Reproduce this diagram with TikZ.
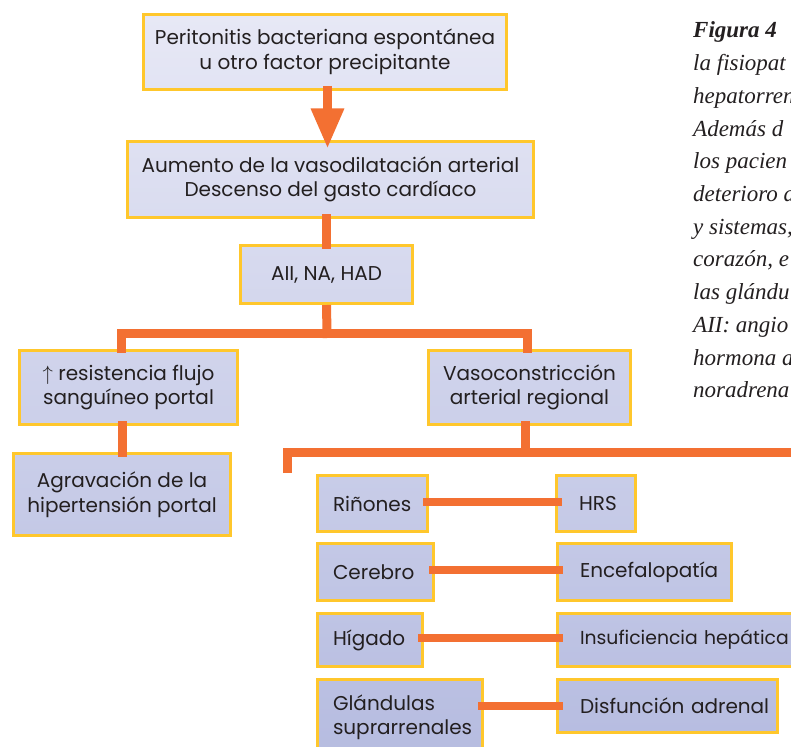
\documentclass[tikz,border=0pt]{standalone}
\usepackage{fontspec}
\setmainfont{Poppins}
\newfontfamily\capfont{Liberation Serif}
\usetikzlibrary{arrows.meta}
\definecolor{boxT}{HTML}{E8E9F6}
\definecolor{boxB}{HTML}{B6BCE0}
\definecolor{bordY}{HTML}{FFC72C}
\definecolor{conO}{HTML}{F37032}
\definecolor{txt}{HTML}{231F20}
\begin{document}
\begin{tikzpicture}[x=1pt,y=-1pt,
  box/.style 2 args={draw=bordY, line width=3pt, top color=boxB!#1!boxT,
    bottom color=boxB!#2!boxT, inner sep=0pt, text=txt,
    font=\fontsize{20}{24.5}\selectfont},
  cbox/.style={align=center},
  lbox/.style={align=left, inner xsep=15.5pt, text width=#1},
  rbox/.style={align=left, inner xsep=22.5pt, text width=#1},
  conn/.style={draw=conO, line width=9pt, shorten <=-5pt, shorten >=-5pt},
  rconn/.style={draw=conO, line width=8pt, shorten <=-6pt, shorten >=-7pt},
  capline/.style={anchor=base west, inner sep=0pt, text=txt,
    font=\capfont\itshape\fontsize{23}{26}\selectfont}]
\useasboundingbox (0,0) rectangle (791,746);
\clip (0,0) rectangle (791,746);

% main column
\node[box={2}{12}, cbox, minimum width=363pt, minimum height=75pt] (P) at (325,52)
  {Peritonitis bacteriana espontánea\\u otro factor precipitante};
\node[box={19}{29}, cbox, minimum width=406pt, minimum height=76pt] (A) at (330.5,179.5)
  {Aumento de la vasodilatación arterial\\Descenso del gasto cardíaco};
\node[box={33}{41}, cbox, minimum width=172pt, minimum height=58pt] (AII) at (326.5,274.5)
  {AII, NA, HAD};
\node[box={47}{57}, cbox, minimum width=218pt, minimum height=74pt] (R) at (128.5,387.5)
  {$\uparrow$ resistencia flujo\\sanguíneo portal};
\node[box={47}{57}, cbox, minimum width=202pt, minimum height=74pt] (V) at (529.5,387.5)
  {Vasoconstricción\\arterial regional};
\node[box={61}{72}, cbox, minimum width=217pt, minimum height=82pt] (G) at (122,494.5)
  {Agravación de la\\hipertensión portal};

% organ rows
\node[box={64}{71}, lbox=79pt, minimum width=110pt, minimum height=56pt] (Rin) at (372.5,503.5) {\mbox{Riñones}};
\node[box={64}{71}, rbox=34pt, minimum width=79pt, minimum height=56pt] (HRS) at (596,503.5) {\mbox{HRS}};
\node[box={73}{81}, lbox=85pt, minimum width=116pt, minimum height=57pt] (Cer) at (375.5,572) {\mbox{Cerebro}};
\node[box={73}{81}, rbox=129pt, minimum width=174pt, minimum height=57pt] (Enc) at (644.5,572) {\mbox{Encefalopatía}};
\node[box={82}{90}, lbox=74pt, minimum width=105pt, minimum height=53pt] (Hig) at (370,640) {\mbox{Hígado}};
\node[box={82}{90}, rbox=202pt, minimum width=247pt, minimum height=53pt,
  font=\fontsize{18.8}{24.5}\selectfont] (Ins) at (681,640) {\mbox{Insuficiencia hepática}};
\node[box={91}{100}, lbox=134pt, minimum width=165pt, minimum height=76pt] (Gl) at (400,717.5) {\mbox{Glándulas}\\\mbox{suprarrenales}};
\node[box={91}{98}, rbox=175pt, minimum width=220pt, minimum height=53pt] (Dis) at (667.5,706) {\mbox{Disfunción adrenal}};

% connectors
\draw[conn, -{Triangle[width=31pt,length=40pt]}, shorten >=-8.5pt]
  ([xshift=2.5pt]P.south) -- ([xshift=2.5pt]P.south |- A.north);
\draw[conn] (A.south -| AII.north) -- (AII.north);
\coordinate (bar) at (327,333);
\draw[conn, shorten <=0pt] (AII.south) -- (bar);
\draw[conn, shorten <=-4pt, shorten >=-4pt] ([xshift=-7pt]R.north) |- (bar) -| ([xshift=-2.5pt]V.north);
\draw[conn] (R.south -| G.north) -- (G.north);
\coordinate (lbL) at (287.5,473);
\coordinate (lbR) at (800,452.5);
\draw[conn, shorten <=0pt, shorten >=0pt] (lbL) |- (lbR);
\draw[conn, shorten >=0pt] ([xshift=-4pt]V.south) -- ([xshift=-4pt]V.south |- lbR);
\draw[rconn] ([yshift=2pt]Rin.east) -- ([yshift=2pt]HRS.west);
\draw[rconn] ([yshift=2.5pt]Cer.east) -- ([yshift=2.5pt]Enc.west);
\draw[rconn] ([yshift=2pt]Hig.east) -- ([yshift=2pt]Ins.west);
\draw[rconn] (Dis.west -| Gl.east) -- (Dis.west);

% caption (cut off at the right edge, as in the source figure)
\node[capline, font=\capfont\bfseries\itshape\fontsize{23}{26}\selectfont] (cap0) at (693,38) {Figura 4};
\foreach \t [count=\i] in {la fisiopat, hepatorren, Además d, los pacien, deterioro d,
  {y sistemas,}, {corazón, e}, las glándu, AII: angio, hormona a, noradrena}
  \node[capline] (cap\i) at (693,38+32.7*\i) {\t};
\end{tikzpicture}
\end{document}
